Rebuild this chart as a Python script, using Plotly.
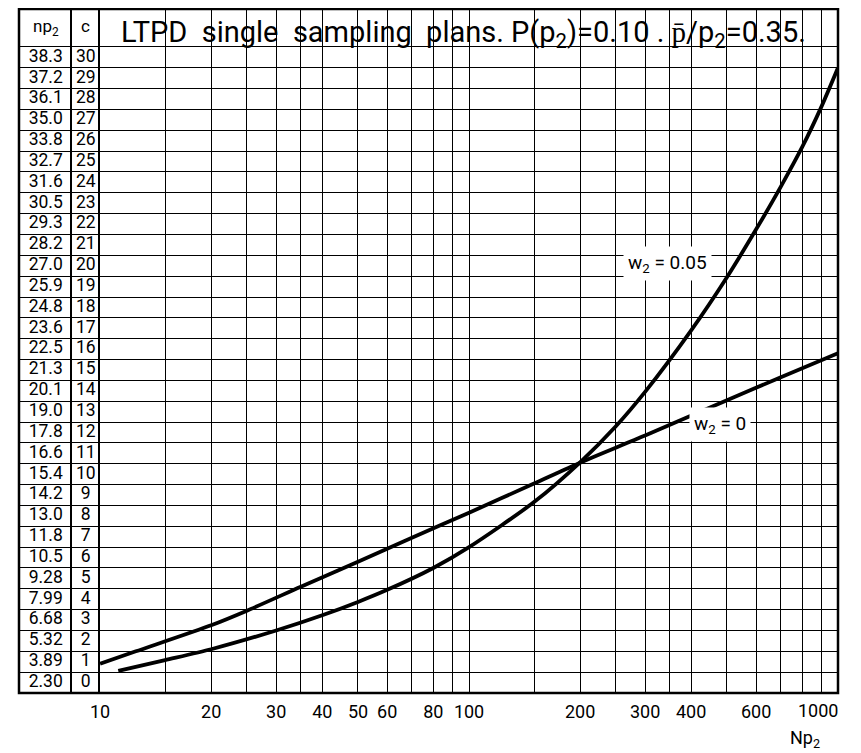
import math
import plotly.graph_objects as go

# ---- data ----
c_values = list(range(31))
np2_values = [2.30, 3.89, 5.32, 6.68, 7.99, 9.28, 10.5, 11.8, 13.0, 14.2, 15.4,
              16.6, 17.8, 19.0, 20.1, 21.3, 22.5, 23.6, 24.8, 25.9, 27.0,
              28.2, 29.3, 30.5, 31.6, 32.7, 33.8, 35.0, 36.1, 37.2, 38.3]

x_labeled = [10, 20, 30, 40, 50, 60, 80, 100, 200, 300, 400, 600, 1000]
x_unlabeled = [15, 25, 35, 70, 90, 150, 250, 350, 500, 700, 800, 900]

w0_x = [10, 12.5, 20, 25, 35, 50, 70, 100, 150, 200, 300, 500, 700, 1000]
w0_c = [0.9, 1.5, 2.75, 3.45, 4.6, 5.8, 6.95, 8.15, 9.55, 10.55, 11.85, 13.55, 14.65, 15.8]

w5_x = [11.2, 15, 20, 30, 40, 50, 60, 80, 100, 150, 200, 250, 300, 400, 500, 600, 700, 800, 900, 1000]
w5_c = [0.56, 1.08, 1.6, 2.5, 3.23, 3.87, 4.45, 5.5, 6.5, 8.66, 10.57, 12.3, 13.95, 16.9,
        19.45, 21.75, 23.8, 25.7, 27.6, 29.5]

FONT = "Roboto"
W, H = 861, 753
ML, MR, MT, MB = 2, 31, 1, 68
PW = W - ML - MR
split = (84 - ML) / PW
y_top = 32.32

def fmt(v):
    return f"{v:.1f}" if v >= 10 else f"{v:.2f}"

fig = go.Figure()

line_style = dict(color="black", width=3.8, shape="spline", smoothing=0.7)
fig.add_trace(go.Scatter(x=w0_x, y=w0_c, mode="lines", line=line_style,
                         xaxis="x", yaxis="y", hoverinfo="skip"))
fig.add_trace(go.Scatter(x=w5_x, y=w5_c, mode="lines", line=line_style,
                         xaxis="x", yaxis="y", hoverinfo="skip"))

# table columns
fig.add_trace(go.Scatter(x=[27] * len(c_values), y=c_values, mode="text",
                         text=[fmt(v) for v in np2_values],
                         textfont=dict(family=FONT, size=17.5, color="black"),
                         xaxis="x2", yaxis="y", hoverinfo="skip"))
fig.add_trace(go.Scatter(x=[67.5] * len(c_values), y=c_values, mode="text",
                         text=[str(c) for c in c_values],
                         textfont=dict(family=FONT, size=17.5, color="black"),
                         xaxis="x2", yaxis="y", hoverinfo="skip"))

tickvals = sorted(x_labeled + x_unlabeled)
ticktext = [str(v) if (v in x_labeled and v != 1000) else "" for v in tickvals]

fig.update_layout(
    width=W, height=H,
    margin=dict(l=ML, r=MR, t=MT, b=MB),
    paper_bgcolor="white", plot_bgcolor="white",
    showlegend=False,
    font=dict(family=FONT, color="black"),
    xaxis=dict(type="log", range=[1, 3], domain=[split, 1], anchor="y",
               tickvals=tickvals, ticktext=ticktext, ticks="",
               showgrid=True, gridcolor="black", gridwidth=1.3,
               showline=False, zeroline=False,
               tickfont=dict(family=FONT, size=18, color="black"),
               ticklabelstandoff=6),
    xaxis2=dict(range=[0, 82], domain=[0, split], anchor="y",
                tickvals=[53], showticklabels=False, ticks="",
                showgrid=True, gridcolor="black", gridwidth=1.6,
                zeroline=False, showline=False),
    yaxis=dict(range=[-0.5, y_top], anchor="x",
               tickvals=[k - 0.5 for k in range(32)], showticklabels=False, ticks="",
               showgrid=True, gridcolor="black", gridwidth=1.3,
               zeroline=False, showline=True, linecolor="black", linewidth=2),
)

# outer frame
fig.add_shape(type="rect", xref="paper", yref="paper", x0=0, x1=1, y0=0, y1=1,
              line=dict(color="black", width=2.5))

# header cells
header_y = (30.5 + y_top) / 2
fig.add_annotation(x=27, y=header_y, xref="x2", yref="y", text="np<sub>2</sub>",
                   showarrow=False, font=dict(family=FONT, size=17, color="black"))
fig.add_annotation(x=67.5, y=header_y + 0.1, xref="x2", yref="y", text="c",
                   showarrow=False, font=dict(family=FONT, size=17, color="black"))

# title
fig.add_annotation(x=(451 - ML) / PW, y=31.12, xref="paper", yref="y",
                   xanchor="center", yanchor="middle",
                   text="LTPD\u00a0\u00a0single\u00a0\u00a0sampling\u00a0\u00a0plans.\u00a0P(p<sub>2</sub>)=0.10\u00a0.\u00a0p\u0304/p<sub>2</sub>=0.35.",
                   showarrow=False, font=dict(family=FONT, size=29, color="black"))

# curve labels
fig.add_annotation(x=math.log10(345), y=20.13, xref="x", yref="y",
                   text="w<sub>2</sub> = 0.05", showarrow=False, bgcolor="white",
                   borderpad=4, font=dict(family=FONT, size=19, color="black"))
fig.add_annotation(x=math.log10(480), y=12.36, xref="x", yref="y",
                   text="w<sub>2</sub> = 0", showarrow=False, bgcolor="white",
                   borderpad=4, font=dict(family=FONT, size=19, color="black"))

# last tick label (kept inside the page like the reference)
fig.add_annotation(x=(832 - ML) / PW, y=-0.0263, xref="paper", yref="paper",
                   xanchor="right", yanchor="middle",
                   text=str(x_labeled[-1]), showarrow=False,
                   font=dict(family=FONT, size=18, color="black"))

# axis title
fig.add_annotation(x=(797 - ML) / PW, y=-0.0673, xref="paper", yref="paper",
                   xanchor="center", yanchor="middle",
                   text="Np<sub>2</sub>", showarrow=False,
                   font=dict(family=FONT, size=18, color="black"))

fig.write_html("out.html")
